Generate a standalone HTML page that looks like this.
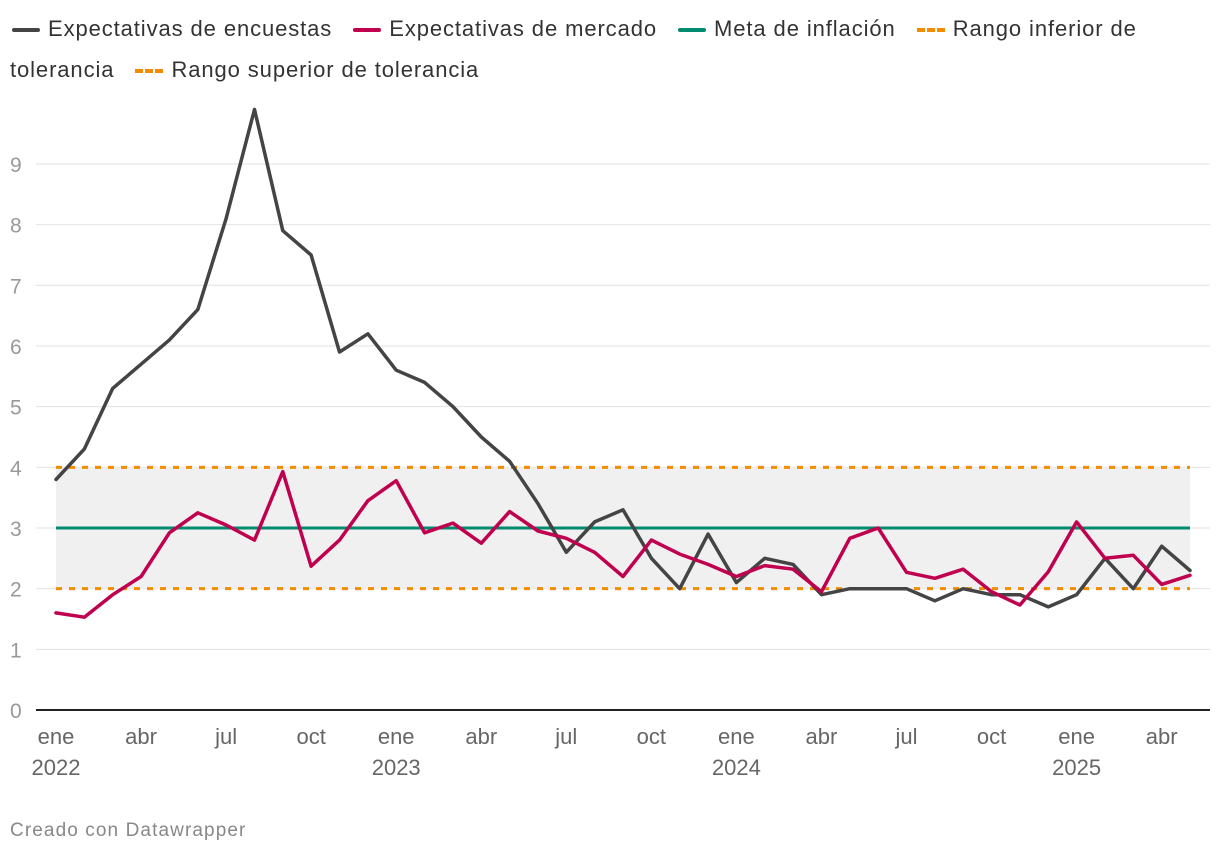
<!DOCTYPE html>
<html><head><meta charset="utf-8"><style>
body{margin:0;background:#fff;font-family:"Liberation Sans",sans-serif;}
#wrap{position:relative;width:1220px;height:856px;overflow:hidden}
.leg{position:absolute;font-size:22px;color:#333;white-space:nowrap;letter-spacing:0.9px}
.leg span.sw{display:inline-block;width:28px;height:4px;vertical-align:middle;margin-right:8px;border-radius:2px}
.leg span.d{display:inline-block;width:28px;height:0;border-top:4px dashed #f28c00;vertical-align:middle;margin-right:8px}
</style></head><body><div id="wrap">
<div class="leg" style="left:12px;top:16px">
<span><span class="sw" style="background:#444"></span>Expectativas de encuestas</span>&nbsp;&nbsp;
<span><span class="sw" style="background:#c0004e"></span>Expectativas de mercado</span>&nbsp;&nbsp;
<span><span class="sw" style="background:#008a6e"></span>Meta de inflación</span>&nbsp;&nbsp;
<span><span class="d"></span>Rango inferior de</span>
</div>
<div class="leg" style="left:10px;top:57px">tolerancia&nbsp;&nbsp;
<span><span class="d"></span>Rango superior de tolerancia</span></div>
<svg id="svg" width="1220" height="856" style="position:absolute;left:0;top:0"></svg>
<div style="position:absolute;left:10px;top:820px;font-size:19px;color:#888;letter-spacing:1.1px">Creado con Datawrapper</div>
</div>
<script>
const survey=[3.8,4.3,5.3,5.7,6.1,6.6,8.1,9.9,7.9,7.5,5.9,6.2,5.6,5.4,5.0,4.5,4.1,3.4,2.6,3.1,3.3,2.5,2.0,2.9,2.1,2.5,2.4,1.9,2.0,2.0,2.0,1.8,2.0,1.9,1.9,1.7,1.9,2.5,2.0,2.7,2.3];
const market=[1.6,1.53,1.9,2.2,2.92,3.25,3.05,2.8,3.93,2.37,2.8,3.45,3.78,2.92,3.08,2.75,3.27,2.95,2.83,2.6,2.2,2.8,2.57,2.4,2.2,2.38,2.32,1.95,2.83,3.0,2.27,2.17,2.32,1.95,1.73,2.28,3.1,2.5,2.55,2.07,2.22];
const target=3, lower=2, upper=4;
const yTicks=[0,1,2,3,4,5,6,7,8,9];
const xLabels=[[0,"ene","2022"],[3,"abr",""],[6,"jul",""],[9,"oct",""],[12,"ene","2023"],[15,"abr",""],[18,"jul",""],[21,"oct",""],[24,"ene","2024"],[27,"abr",""],[30,"jul",""],[33,"oct",""],[36,"ene","2025"],[39,"abr",""]];
const x=i=>56+i*28.35, y=v=>710-v*60.67;
const svg=document.getElementById('svg'), NS='http://www.w3.org/2000/svg';
function mk(t,a,n){const e=document.createElementNS(NS,t);for(const k in a)e.setAttribute(k,a[k]);


svg.appendChild(e);return e;}
yTicks.forEach(v=>{
if(v>0)mk('line',{x1:36,x2:1210,y1:y(v),y2:y(v),stroke:'#e2e2e2','stroke-width':1},'gridline-'+v);
const t=mk('text',{x:10,y:y(v)+8,'font-size':21,fill:'#999'},'y-tick-'+v);t.textContent=v;});
const n=survey.length-1;
mk('rect',{x:x(0),y:y(upper),width:x(n)-x(0),height:y(lower)-y(upper),fill:'#f0f0f0'},'tolerance-band');
mk('line',{x1:36,x2:1210,y1:y(0),y2:y(0),stroke:'#222','stroke-width':2},'x-axis-baseline');
xLabels.forEach(([i,m,yr])=>{const t=mk('text',{x:x(i),y:744,'font-size':22,fill:'#666','text-anchor':'middle'},'x-tick-'+i);t.textContent=m;
if(yr){const t2=mk('text',{x:x(i),y:775,'font-size':22,fill:'#666','text-anchor':'middle'},'x-year-'+yr);t2.textContent=yr;}});
mk('line',{x1:x(0),x2:x(n),y1:y(target),y2:y(target),stroke:'#008a6e','stroke-width':3},'target-line');
[[lower,'lower-tolerance-line'],[upper,'upper-tolerance-line']].forEach(([v,nm])=>mk('line',{x1:x(0),x2:x(n),y1:y(v),y2:y(v),stroke:'#f28c00','stroke-width':3,'stroke-dasharray':'6 7'},nm));
const pts=a=>a.map((v,i)=>x(i).toFixed(1)+','+y(v).toFixed(1)).join(' ');
mk('polyline',{points:pts(survey),fill:'none',stroke:'#444','stroke-width':3.5,'stroke-linejoin':'round','stroke-linecap':'round'},'survey-line');
mk('polyline',{points:pts(market),fill:'none',stroke:'#c0004e','stroke-width':3.5,'stroke-linejoin':'round','stroke-linecap':'round'},'market-line');
</script></body></html>
